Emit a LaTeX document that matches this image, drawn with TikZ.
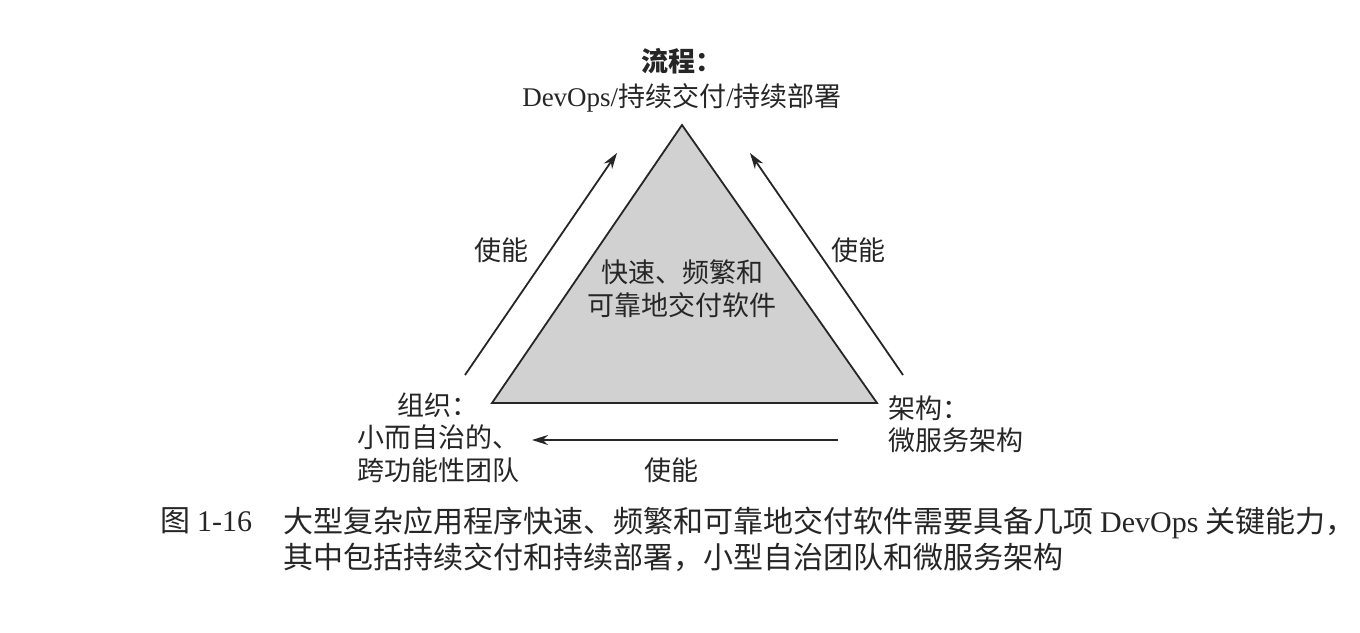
\documentclass[tikz,border=0pt]{standalone}
\usepackage{fontspec}
\setmainfont{Liberation Serif}
\newfontfamily\cjk{Noto Sans CJK SC}
\usetikzlibrary{arrows.meta}
\begin{document}
\begin{tikzpicture}[x=0.5pt,y=-0.5pt,
  lbl/.style={font=\cjk\fontsize{13.5}{16.5}\selectfont, inner sep=0pt, text=black!85},
  arr/.style={line width=0.9pt, draw=black!85, -{Stealth[length=8pt,width=5pt]}},
  tri/.style={draw=black!85, line width=0.9pt, fill=black!18, line join=miter},
  captxt/.style={font=\cjk\fontsize{15}{18}\selectfont, inner sep=0pt, anchor=west, align=left, text=black!85}]
\useasboundingbox[fill=white] (0,0) rectangle (1360,632);
\coordinate (A) at (682,125);
\coordinate (B) at (492,403);
\coordinate (C) at (877,403);
\draw[tri] (A) -- (B) -- (C) -- cycle;
\node[lbl, align=center, font=\cjk\fontsize{13.5}{16.5}\selectfont] (core) at (682,288.5) {快速、频繁和\\可靠地交付软件};
\node[lbl, align=center, font=\cjk\fontsize{13.5}{17.5}\selectfont] (top) at (682,80.5) {{\bfseries 流程：}\\{\rmfamily DevOps/}持续交付{\rmfamily /}持续部署};
\node[lbl, align=center, font=\cjk\fontsize{13.5}{16.25}\selectfont] (org) at (438,437.5) {组织：\\小而自治的、\\跨功能性团队};
\node[lbl, align=left, anchor=west, font=\cjk\fontsize{13.5}{16}\selectfont] (arch) at (888,424) {架构：\\微服务架构};
\coordinate (l1) at (465,375);
\coordinate (l2) at (617,153);
\coordinate (r1) at (903,375);
\coordinate (r2) at (750,153);
\coordinate (b1) at (838,440);
\coordinate (b2) at (532,440);
\draw[arr] (l1) -- (l2);
\draw[arr] (r1) -- (r2);
\draw[arr] (b1) -- (b2);
\node[lbl] (el) at (501,250) {使能};
\node[lbl] (er) at (858,250) {使能};
\node[lbl] (eb) at (671,470) {使能};
\node[captxt] (fig) at (160,521) {图 {\rmfamily 1-16}};
\node[captxt] (captext) at (283,539) {大型复杂应用程序快速、频繁和可靠地交付软件需要具备几项 {\rmfamily DevOps} 关键能力，\\其中包括持续交付和持续部署，小型自治团队和微服务架构};
\end{tikzpicture}
\end{document}
